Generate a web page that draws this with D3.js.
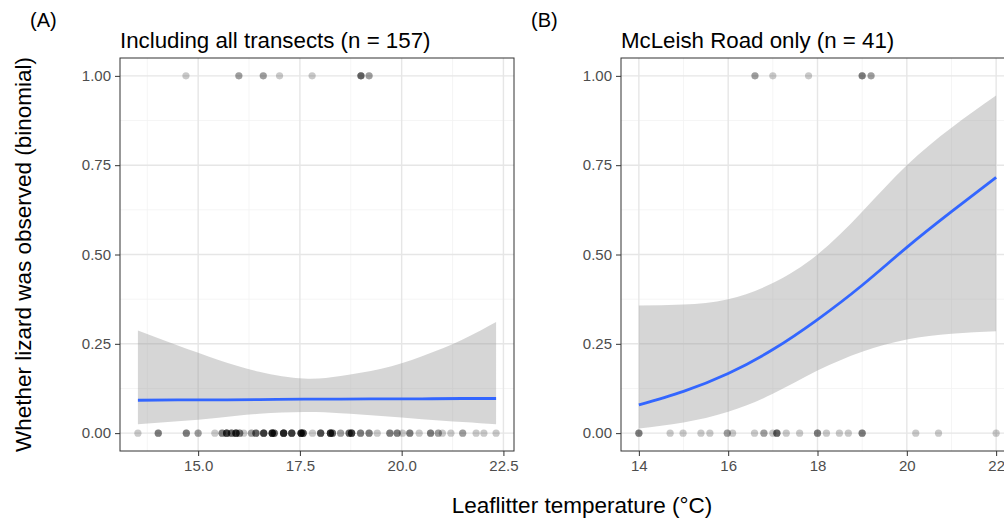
<!DOCTYPE html>
<html>
<head>
<meta charset="utf-8">
<script src="https://cdnjs.cloudflare.com/ajax/libs/d3/7.8.5/d3.min.js"></script>
<style>
  body { margin: 0; background: #fff; }
  text { font-family: "Liberation Sans", Arial, sans-serif; }
</style>
</head>
<body>
<script>
// ---- data ----
// panel A: all transects, absent (0) points: temperature and how many stack there
var absentA_t = [13.52, 14.02, 14.71, 15.0, 15.41, 15.59, 15.70, 15.82, 15.93, 16.02, 16.12, 16.31, 16.42, 16.61, 16.82, 16.87,
  17.10, 17.30, 17.53, 17.58, 17.81, 18.01, 18.25, 18.30, 18.50, 18.71, 18.77, 18.99, 19.20, 19.40, 19.71, 19.89,
  20.02, 20.20, 20.43, 20.71, 20.90, 21.00, 21.21, 21.50, 21.83, 22.02, 22.32];
var absentA_n = [1, 3, 3, 2, 1, 3, 6, 4, 7, 3, 1, 2, 4, 6, 8, 4,
  8, 6, 8, 5, 1, 5, 7, 4, 2, 4, 6, 3, 3, 1, 3, 3,
  1, 3, 1, 3, 2, 1, 1, 2, 1, 1, 1];
var presentA_t = [14.7, 16.0, 16.6, 17.0, 17.8, 19.0, 19.2];
var presentA_n = [1, 2, 2, 1, 1, 4, 2];

// panel A fitted curve and 95% band
var fitA_t = [13.52, 14.5, 15.5, 16.5, 17.6, 18.5, 19.5, 20.5, 21.5, 22.32];
var fitA_y = [0.092, 0.093, 0.093, 0.094, 0.095, 0.095, 0.096, 0.096, 0.097, 0.097];
var fitA_lo = [0.025, 0.033, 0.043, 0.054, 0.059, 0.056, 0.048, 0.039, 0.031, 0.025];
var fitA_hi = [0.287, 0.245, 0.205, 0.172, 0.153, 0.160, 0.180, 0.215, 0.262, 0.311];

// panel B: McLeish Road only
var absentB_t = [14.0, 14.7, 14.99, 15.39, 15.59, 15.98, 16.1, 16.59, 16.8, 17.0, 17.09, 17.3, 17.6, 18.0, 18.2, 18.49, 18.69, 19.0, 20.2, 20.71, 22.0];
var absentB_n = [3, 1, 1, 1, 1, 2, 1, 1, 2, 1, 4, 1, 1, 3, 1, 1, 1, 3, 1, 1, 1];
var presentB_t = [16.6, 17.0, 17.8, 19.0, 19.2];
var presentB_n = [2, 1, 1, 3, 2];

var fitB_t = [14, 15, 16, 17, 18, 19, 20, 21, 22];
var fitB_y = [0.079, 0.117, 0.167, 0.234, 0.318, 0.414, 0.520, 0.620, 0.716];
var fitB_lo = [0.013, 0.030, 0.060, 0.110, 0.175, 0.228, 0.262, 0.278, 0.285];
var fitB_hi = [0.357, 0.360, 0.375, 0.420, 0.500, 0.620, 0.750, 0.855, 0.945];

var xTicksA = [15, 17.5, 20, 22.5];
var xMinorA = [13.75, 16.25, 18.75, 21.25];
var xTicksB = [14, 16, 18, 20, 22];
var xMinorB = [15, 17, 19, 21];
var yTicks = [0, 0.25, 0.5, 0.75, 1];
var yMinor = [0.125, 0.375, 0.625, 0.875];

var panels = [
  { tag: "(A)", title: "Including all transects (n = 157)", left: 120, right: 514, dom: [13.08, 22.76],
    ticks: xTicksA, minor: xMinorA, fmt: d3.format(".1f"),
    absT: absentA_t, absN: absentA_n, preT: presentA_t, preN: presentA_n,
    ft: fitA_t, fy: fitA_y, flo: fitA_lo, fhi: fitA_hi },
  { tag: "(B)", title: "McLeish Road only (n = 41)", left: 621, right: 1014, dom: [13.6, 22.4],
    ticks: xTicksB, minor: xMinorB, fmt: d3.format("d"),
    absT: absentB_t, absN: absentB_n, preT: presentB_t, preN: presentB_n,
    ft: fitB_t, fy: fitB_y, flo: fitB_lo, fhi: fitB_hi }
];

var width = 1004, height = 520;
var plotTop = 58, plotBottom = 451;

var svg = d3.select("body").append("svg")
  .attr("width", width)
  .attr("height", height)
  .style("display", "block");

svg.append("rect").attr("width", width).attr("height", height).attr("fill", "#fff");

var y = d3.scaleLinear().domain([-0.05, 1.05]).range([plotBottom, plotTop]);

panels.forEach(function(p) {
  var x = d3.scaleLinear().domain(p.dom).range([p.left, p.right]);
  var g = svg.append("g");

  // grid
  g.selectAll(".ymin").data(yMinor).enter().append("line")
    .attr("x1", p.left).attr("x2", p.right).attr("y1", y).attr("y2", y)
    .attr("stroke", "#f2f2f2").attr("stroke-width", 0.8);
  g.selectAll(".xmin").data(p.minor).enter().append("line")
    .attr("y1", plotTop).attr("y2", plotBottom).attr("x1", x).attr("x2", x)
    .attr("stroke", "#f2f2f2").attr("stroke-width", 0.8);
  g.selectAll(".ymaj").data(yTicks).enter().append("line")
    .attr("x1", p.left).attr("x2", p.right).attr("y1", y).attr("y2", y)
    .attr("stroke", "#e6e6e6").attr("stroke-width", 1.4);
  g.selectAll(".xmaj").data(p.ticks).enter().append("line")
    .attr("y1", plotTop).attr("y2", plotBottom).attr("x1", x).attr("x2", x)
    .attr("stroke", "#e6e6e6").attr("stroke-width", 1.4);

  // confidence band
  var band = p.ft.map(function(t, i) { return { t: t, lo: p.flo[i], hi: p.fhi[i], f: p.fy[i] }; });
  g.append("path").datum(band)
    .attr("d", d3.area().curve(d3.curveNatural)
      .x(function(d) { return x(d.t); })
      .y0(function(d) { return y(d.lo); })
      .y1(function(d) { return y(d.hi); }))
    .attr("fill", "#999").attr("fill-opacity", 0.4);

  // points
  var pts = [];
  p.absT.forEach(function(t, i) { for (var k = 0; k < p.absN[i]; k++) pts.push({ t: t, v: 0 }); });
  p.preT.forEach(function(t, i) { for (var k = 0; k < p.preN[i]; k++) pts.push({ t: t, v: 1 }); });
  g.selectAll(".pt").data(pts).enter().append("circle")
    .attr("cx", function(d) { return x(d.t); })
    .attr("cy", function(d) { return y(d.v); })
    .attr("r", 3.6)
    .attr("fill", "#000").attr("fill-opacity", 0.21);

  // fitted line
  g.append("path").datum(band)
    .attr("d", d3.line().curve(d3.curveNatural)
      .x(function(d) { return x(d.t); })
      .y(function(d) { return y(d.f); }))
    .attr("fill", "none").attr("stroke", "#3366FF").attr("stroke-width", 2.8);

  // border
  g.append("rect").attr("x", p.left).attr("y", plotTop)
    .attr("width", p.right - p.left).attr("height", plotBottom - plotTop)
    .attr("fill", "none").attr("stroke", "#333").attr("stroke-width", 1);

  // axes
  var ax = g.append("g").attr("transform", "translate(0," + plotBottom + ")")
    .call(d3.axisBottom(x).tickValues(p.ticks).tickFormat(p.fmt).tickSize(5).tickPadding(4));
  var ay = g.append("g").attr("transform", "translate(" + p.left + ",0)")
    .call(d3.axisLeft(y).tickValues(yTicks).tickFormat(d3.format(".2f")).tickSize(5).tickPadding(4));
  [ax, ay].forEach(function(a) {
    a.attr("font-size", null).attr("font-family", null);
    a.select(".domain").remove();
    a.selectAll(".tick line").attr("stroke", "#333");
    a.selectAll(".tick text").attr("fill", "#4d4d4d")
      .style("font-family", "Liberation Sans, Arial, sans-serif").style("font-size", "15px");
  });

  // titles
  svg.append("text").attr("x", p.left).attr("y", 48)
    .style("font-size", "22.3px").attr("fill", "#000").text(p.title);
  svg.append("text").attr("x", p.left - 90).attr("y", 27)
    .style("font-size", "20px").attr("fill", "#000").text(p.tag);
});

svg.append("text")
  .attr("transform", "translate(31," + ((plotTop + plotBottom) / 2) + ") rotate(-90)")
  .attr("text-anchor", "middle")
  .style("font-size", "22.5px").text("Whether lizard was observed (binomial)");

svg.append("text")
  .attr("x", 582).attr("y", 513)
  .attr("text-anchor", "middle")
  .style("font-size", "22.5px").text("Leaflitter temperature (°C)");
</script>
</body>
</html>
